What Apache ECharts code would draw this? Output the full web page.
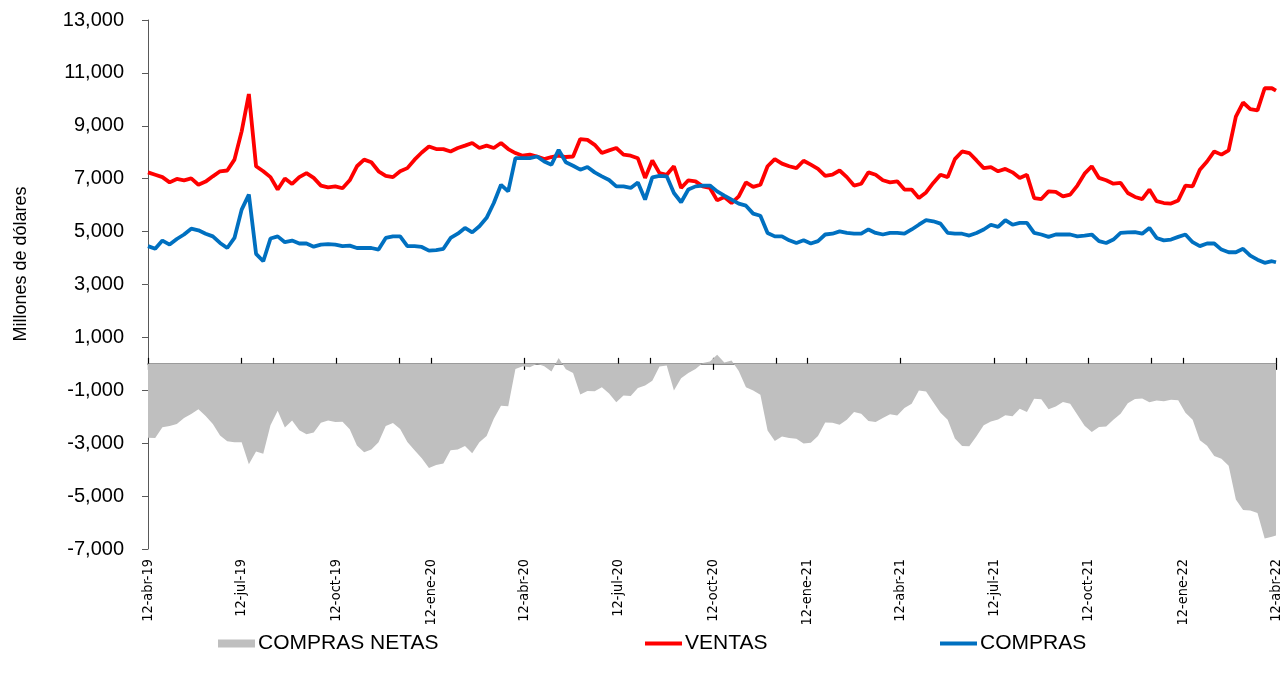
<!DOCTYPE html>
<html lang="es">
<head>
<meta charset="utf-8">
<title>Compras y ventas</title>
<script src="https://cdn.jsdelivr.net/npm/echarts@6/dist/echarts.min.js"></script>
<style>
  html, body { margin: 0; padding: 0; background: #fff; }
  #chart { width: 1284px; height: 677px; }
</style>
</head>
<body>
<div id="chart"></div>
<script>
// Weekly observations starting 12-abr-19; the last one is 12-abr-22.
const fechaInicio = '2019-04-12';
const fechaFin = '2022-04-12';

// VENTAS (millones de dólares)
const ventas = [
  7240, 7150, 7060, 6860, 6990, 6940, 7010, 6770, 6890, 7090,
  7280, 7310, 7720, 8790, 10200, 7470, 7280, 7060, 6590, 7010,
  6800, 7060, 7210, 7030, 6740, 6670, 6710, 6640, 6940, 7470,
  7720, 7620, 7280, 7110, 7060, 7280, 7400, 7720, 7990, 8220,
  8120, 8120, 8030, 8160, 8250, 8350, 8160, 8250, 8160, 8350,
  8120, 7970, 7870, 7910, 7840, 7740, 7820, 7870, 7820, 7840,
  8500, 8470, 8280, 7970, 8070, 8160, 7910, 7870, 7770, 7030,
  7690, 7210, 7150, 7470, 6650, 6940, 6900, 6710, 6650, 6180,
  6310, 6080, 6330, 6860, 6690, 6770, 7470, 7740, 7570, 7470,
  7400, 7680, 7530, 7370, 7110, 7150, 7310, 7060, 6740, 6810,
  7240, 7150, 6940, 6860, 6900, 6590, 6590, 6270, 6480, 6840,
  7150, 7060, 7740, 8030, 7970, 7690, 7400, 7440, 7280, 7370,
  7240, 7030, 7150, 6270, 6230, 6520, 6500, 6330, 6400, 6740,
  7190, 7470, 7030, 6940, 6810, 6840, 6460, 6310, 6230, 6590,
  6150, 6080, 6060, 6180, 6740, 6710, 7340, 7650, 8030, 7910,
  8070, 9350, 9880, 9630, 9580, 10420, 10420, 10330
];

// COMPRAS (millones de dólares)
const compras = [
  4450, 4350, 4660, 4510, 4720, 4890, 5110, 5050, 4920, 4820,
  4570, 4380, 4760, 5830, 6400, 4160, 3880, 4740, 4820, 4600,
  4660, 4550, 4550, 4430, 4510, 4530, 4510, 4450, 4470, 4380,
  4380, 4380, 4320, 4760, 4820, 4820, 4450, 4450, 4420, 4280,
  4300, 4350, 4760, 4920, 5140, 4970, 5200, 5520, 6080, 6770,
  6520, 7780, 7780, 7780, 7840, 7650, 7530, 8090, 7620, 7490,
  7340, 7440, 7240, 7090, 6950, 6710, 6710, 6650, 6860, 6210,
  7050, 7110, 7090, 6460, 6110, 6590, 6710, 6740, 6740, 6520,
  6360, 6210, 6060, 5980, 5680, 5600, 4950, 4820, 4820, 4670,
  4570, 4670, 4550, 4640, 4890, 4920, 5010, 4950, 4920, 4920,
  5080, 4950, 4890, 4950, 4950, 4920, 5080, 5260, 5430, 5390,
  5300, 4950, 4920, 4920, 4850, 4950, 5080, 5260, 5180, 5430,
  5260, 5330, 5330, 4950, 4890, 4800, 4890, 4890, 4890, 4820,
  4850, 4890, 4640, 4570, 4700, 4950, 4970, 4980, 4920, 5140,
  4760, 4670, 4700, 4800, 4890, 4600, 4450, 4550, 4550, 4320,
  4220, 4220, 4350, 4090, 3940, 3820, 3880, 3840
];

// Axis labels every three months
const fechasEtiqueta = [
  '2019-04-12', '2019-07-12', '2019-10-12', '2020-01-12', '2020-04-12',
  '2020-07-12', '2020-10-12', '2021-01-12', '2021-04-12', '2021-07-12',
  '2021-10-12', '2022-01-12', '2022-04-12'
];
const etiquetas = [
  '12-abr-19', '12-jul-19', '12-oct-19', '12-ene-20', '12-abr-20',
  '12-jul-20', '12-oct-20', '12-ene-21', '12-abr-21', '12-jul-21',
  '12-oct-21', '12-ene-22', '12-abr-22'
];
// Extra tick marks on the zero line
const fechasMarcaExtra = [
  '2019-08-12', '2019-12-12', '2020-08-12', '2020-12-12', '2021-08-12', '2021-12-12'
];

const nombres = { netas: 'COMPRAS NETAS', ventas: 'VENTAS', compras: 'COMPRAS' };
const colores = { netas: '#BFBFBF', ventas: '#FF0000', compras: '#0070C0' };

const DIA = 86400000;
function diaDesdeInicio(iso) {
  const [a, m, d] = iso.split('-').map(Number);
  const [a0, m0, d0] = fechaInicio.split('-').map(Number);
  return Math.round((Date.UTC(a, m - 1, d) - Date.UTC(a0, m0 - 1, d0)) / DIA);
}
const diaFinal = diaDesdeInicio(fechaFin);
const n = ventas.length;
const dias = ventas.map((_, i) => (i < n - 1 ? i * 7 : diaFinal));

const diasEtiqueta = fechasEtiqueta.map(diaDesdeInicio);
const diasMarca = diasEtiqueta.concat(fechasMarcaExtra.map(diaDesdeInicio)).sort((a, b) => a - b);
const textoEtiqueta = {};
diasEtiqueta.forEach((d, i) => { textoEtiqueta[d] = etiquetas[i]; });

// Compras netas = compras − ventas
const serieVentas = dias.map((d, i) => [d, ventas[i]]);
const serieCompras = dias.map((d, i) => [d, compras[i]]);
const serieNetas = dias.map((d, i) => [d, compras[i] - ventas[i]]);

const FUENTE = '"Liberation Sans", Arial, sans-serif';
const FUENTE_ESTRECHA = '"Liberation Sans Narrow", "DejaVu Sans Condensed", "Liberation Sans", Arial, sans-serif';
const ejeColor = '#595959';

// Size the rotated date labels so each one is about 63px long,
// using a narrow face when one is installed.
function tamanoEtiquetaFecha() {
  const ctx = document.createElement('canvas').getContext('2d');
  ctx.font = '100px ' + FUENTE_ESTRECHA;
  const ancho = ctx.measureText(etiquetas[0]).width;
  return Math.max(13, Math.min(19, Math.round(63 / ancho * 1000) / 10));
}
const tamFecha = tamanoEtiquetaFecha();

const chart = echarts.init(document.getElementById('chart'), null, { renderer: 'canvas' });

const ejeXBase = { type: 'value', min: 0, max: diaFinal, splitLine: { show: false } };
const marcas = { show: true, customValues: diasMarca, length: 6, lineStyle: { color: '#000', width: 1.2 } };

const leyendaTexto = { fontSize: 21, fontFamily: FUENTE, color: '#000', padding: [0, 0, 0, -2] };

chart.setOption({
  animation: false,
  backgroundColor: '#ffffff',
  textStyle: { fontFamily: FUENTE, color: '#000' },
  grid: { left: 148, right: 8, top: 20, bottom: 128, containLabel: false },
  xAxis: [
    // date labels under the plot
    Object.assign({}, ejeXBase, {
      position: 'bottom',
      axisLine: { show: false, onZero: false },
      axisTick: { show: false },
      axisLabel: {
        customValues: diasEtiqueta,
        formatter: v => textoEtiqueta[v] || '',
        rotate: 90,
        margin: 10,
        fontSize: tamFecha,
        color: '#000',
        fontFamily: FUENTE_ESTRECHA
      }
    }),
    // zero line with ticks hanging below it
    Object.assign({}, ejeXBase, {
      position: 'bottom',
      axisLine: { show: true, onZero: true, onZeroAxisIndex: 0, lineStyle: { color: '#6b6b6b', width: 1.5 } },
      axisTick: marcas,
      axisLabel: { show: false }
    }),
    // same ticks rising above the zero line
    Object.assign({}, ejeXBase, {
      position: 'top',
      axisLine: { show: false, onZero: true, onZeroAxisIndex: 0 },
      axisTick: marcas,
      axisLabel: { show: false }
    })
  ],
  yAxis: {
    type: 'value',
    min: -7000,
    max: 13000,
    interval: 2000,
    splitLine: { show: false },
    axisLine: { show: true, lineStyle: { color: ejeColor, width: 1 } },
    axisTick: { show: true, length: 6, lineStyle: { color: ejeColor } },
    axisLabel: {
      margin: 24,
      fontSize: 20,
      color: '#000',
      fontFamily: FUENTE,
      formatter: v => v.toLocaleString('en-US')
    }
  },
  graphic: [{
    type: 'text',
    x: 21,
    y: 264,
    rotation: Math.PI / 2,
    style: {
      text: 'Millones de dólares',
      font: '18px ' + FUENTE,
      fill: '#000',
      textAlign: 'center',
      textVerticalAlign: 'middle'
    }
  }],
  legend: [
    {
      data: [{ name: nombres.netas, icon: 'rect' }],
      left: 213, top: 628, itemWidth: 37, itemHeight: 8, itemGap: 0,
      textStyle: leyendaTexto
    },
    {
      data: [{ name: nombres.ventas, icon: 'rect' }],
      left: 640, top: 628, itemWidth: 37, itemHeight: 4, itemGap: 0,
      textStyle: leyendaTexto
    },
    {
      data: [{ name: nombres.compras, icon: 'rect' }],
      left: 935, top: 628, itemWidth: 37, itemHeight: 4, itemGap: 0,
      textStyle: leyendaTexto
    }
  ],
  series: [
    {
      name: nombres.netas,
      type: 'line',
      data: serieNetas,
      color: colores.netas,
      showSymbol: false,
      symbol: 'none',
      lineStyle: { width: 0 },
      areaStyle: { color: colores.netas, opacity: 1, origin: 0 },
      z: 1
    },
    {
      name: nombres.ventas,
      type: 'line',
      data: serieVentas,
      color: colores.ventas,
      showSymbol: false,
      symbol: 'none',
      lineStyle: { width: 3.8, color: colores.ventas },
      z: 3
    },
    {
      name: nombres.compras,
      type: 'line',
      data: serieCompras,
      color: colores.compras,
      showSymbol: false,
      symbol: 'none',
      lineStyle: { width: 3.8, color: colores.compras },
      z: 4
    }
  ]
});
</script>
</body>
</html>
